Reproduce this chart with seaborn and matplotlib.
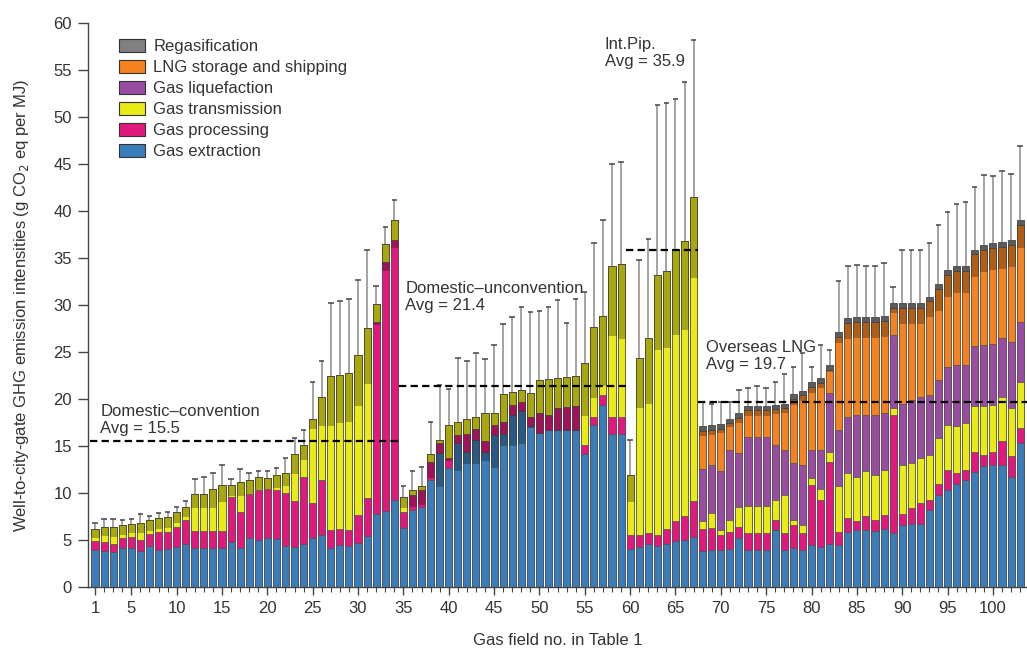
import matplotlib
matplotlib.use('Agg')
import matplotlib.pyplot as plt
import matplotlib.patches as mpatches
import numpy as np
import pandas as pd
import seaborn as sns

# gas field numbers
fields = list(range(1, 104))

# emission intensity per stage (g CO2 eq per MJ), fields 1..103
extraction = [3.9, 3.8, 3.7, 4.1, 4.2, 3.8, 4.4, 3.9, 4.0, 4.3, 4.6, 4.1, 4.2, 4.2, 4.2, 4.8, 4.1, 5.2, 5.0, 5.2,
              5.1, 4.4, 4.3, 4.6, 5.2, 5.5, 4.2, 4.5, 4.4, 4.7, 5.4, 7.8, 8.1, 9.3,
              6.3, 8.2, 8.5, 11.4, 14.3, 12.7, 15.3, 14.4, 15.6, 14.4, 16.2, 16.3, 18.3, 18.7, 17.1, 16.4,
              16.7, 16.7, 16.7, 16.7, 14.1, 17.2, 19.4, 16.3, 16.3,
              4.0, 4.3, 4.6, 4.4, 4.6, 4.9, 5.0, 5.3,
              3.8, 3.9, 3.9, 4.0, 5.2, 3.9, 3.9, 3.9, 6.1, 3.9, 4.1, 3.9, 4.5, 4.3, 4.6, 4.5, 5.9, 6.1,
              6.1, 6.0, 6.2, 5.7, 6.6, 6.7, 6.7, 8.2, 9.8, 10.3, 11.0, 11.4, 12.2, 12.9, 13.0, 13.0, 11.7, 15.3]
processing = [1.0, 1.0, 0.9, 1.1, 1.1, 1.2, 1.2, 1.9, 1.9, 2.1, 2.5, 1.9, 1.8, 1.8, 1.8, 4.8, 3.9, 4.7, 5.3, 5.2,
              5.2, 5.6, 4.9, 7.1, 3.7, 5.9, 1.9, 1.7, 1.7, 3.0, 4.1, 20.4, 26.5, 27.6,
              1.7, 1.6, 1.8, 1.9, 1.0, 1.0, 0.9, 1.9, 1.2, 1.1, 1.0, 1.2, 1.1, 1.0, 1.0, 2.1,
              1.6, 2.3, 2.5, 2.6, 1.0, 0.9, 1.0, 1.8, 1.8,
              1.5, 1.2, 1.1, 1.1, 1.6, 2.1, 2.6, 3.8,
              2.4, 2.4, 1.6, 1.9, 1.2, 1.8, 1.8, 1.8, 1.0, 1.8, 2.5, 1.8, 6.4, 5.0, 8.7, 1.4, 1.4, 0.9,
              1.4, 1.1, 1.5, 12.6, 1.2, 1.7, 2.2, 1.1, 1.2, 2.1, 1.1, 1.0, 2.2, 1.1, 1.4, 2.5, 2.2, 1.6]
transmission = [1.3, 1.6, 1.8, 1.4, 1.4, 1.8, 1.5, 1.5, 1.5, 1.6, 1.4, 3.9, 3.9, 4.4, 4.8, 1.3, 3.2, 1.5, 1.4, 1.2,
                1.6, 2.1, 5.0, 3.4, 9.0, 8.8, 16.3, 16.4, 16.7, 17.0, 18.1, 1.9, 1.9, 2.1,
                1.6, 0.5, 0.4, 0.8, 0.3, 3.5, 1.3, 1.6, 1.3, 3.0, 1.3, 3.0, 1.3, 1.3, 2.5, 3.5,
                3.8, 3.2, 3.1, 3.1, 8.7, 9.6, 8.4, 16.0, 16.3,
                6.4, 18.9, 20.8, 27.7, 27.4, 29.0, 29.2, 32.4,
                0.8, 1.6, 0.6, 1.2, 2.1, 2.9, 2.9, 2.9, 2.2, 4.1, 0.5, 0.9, 0.7, 1.1, 1.1, 4.8, 4.8, 4.7,
                4.8, 4.8, 4.7, 0.7, 5.2, 4.8, 4.8, 4.7, 4.8, 4.8, 5.0, 5.0, 4.9, 5.3, 5.0, 4.7, 5.1, 4.9]
liquefaction = [0.0] * 67 + [
                5.6, 5.1, 6.2, 7.5, 5.8, 7.4, 7.4, 7.4, 5.8, 4.8, 6.1, 6.4, 3.0, 4.2, 6.2, 6.0, 6.0, 6.6,
                6.0, 6.4, 6.1, 7.8, 6.5, 6.7, 6.5, 6.4, 6.2, 6.2, 6.5, 6.2, 6.3, 6.4, 6.5, 6.3, 7.1, 6.4]
lng_shipping = [0.0] * 67 + [
                4.0, 3.7, 4.5, 2.8, 3.7, 2.8, 2.8, 2.8, 3.8, 4.4, 6.8, 7.4, 6.7, 7.1, 2.5, 9.9, 10.0, 9.9,
                9.9, 9.9, 9.8, 2.9, 10.2, 9.8, 9.5, 10.0, 9.7, 9.8, 10.0, 10.0, 9.8, 10.2, 10.2, 9.7, 10.3, 10.3]
regasification = [0.0] * 67 + [0.5] * 36

# uncertainty range: darker band starts at `range_low`, whisker ends at `range_high`
range_low = [5.3, 5.5, 5.4, 5.6, 5.9, 5.9, 6.1, 6.3, 6.4, 6.9, 7.5, 8.5, 8.5, 8.5, 9.1, 9.8, 9.8, 10.0, 10.4, 10.5,
             10.6, 10.8, 12.1, 13.6, 16.9, 17.2, 17.2, 17.5, 17.7, 19.4, 21.7, 28.0, 33.7, 36.2,
             8.5, 8.6, 8.8, 11.7, 10.7, 13.5, 12.4, 13.2, 13.2, 13.5, 12.8, 15.1, 15.1, 15.3, 17.0, 16.4,
             16.7, 16.7, 16.7, 16.7, 18.3, 20.2, 21.5, 26.8, 26.5,
             9.2, 19.1, 19.6, 25.3, 25.5, 26.9, 27.4, 33.0,
             16.2, 16.3, 16.5, 17.1, 17.6, 18.3, 18.3, 18.3, 18.5, 18.6, 19.5, 19.9, 20.7, 21.3, 23.0, 26.1, 26.5, 26.6,
             26.6, 26.6, 26.7, 29.3, 28.1, 28.1, 28.1, 28.8, 29.5, 31.0, 31.4, 31.4, 33.1, 33.6, 33.8, 33.9, 34.1, 36.2]
range_high = [6.8, 7.2, 7.2, 7.1, 7.2, 7.8, 7.6, 7.9, 8.0, 8.5, 9.2, 11.5, 11.7, 12.1, 13.0, 11.5, 12.6, 12.1, 12.3, 12.3,
              12.7, 13.7, 15.9, 16.7, 21.8, 24.0, 30.2, 30.4, 30.6, 32.7, 35.9, 32.0, 38.3, 41.2,
              10.7, 12.3, 12.8, 17.5, 21.5, 21.1, 24.4, 24.0, 24.9, 24.3, 25.7, 28.0, 28.7, 29.8, 29.3, 29.4,
              29.8, 30.5, 28.1, 30.6, 31.4, 36.6, 39.0, 45.0, 45.2,
              15.6, 34.8, 37.0, 51.3, 51.5, 51.9, 53.7, 58.2,
              19.7, 19.5, 19.7, 19.7, 21.0, 21.2, 21.4, 21.2, 21.8, 22.7, 23.4, 24.9, 23.4, 25.7, 25.2, 32.5, 34.1, 34.3,
              34.1, 34.1, 34.5, 31.9, 35.9, 35.8, 35.9, 36.6, 38.5, 39.9, 40.7, 41.0, 42.6, 43.8, 43.7, 44.3, 43.9, 46.9]

# group averages: (label, average, first field, last field)
groups = [('Domestic\u2013convention', 15.5, 1, 34),
          ('Domestic\u2013unconvention', 21.4, 35, 59),
          ('Int.Pip.', 35.9, 60, 67),
          ('Overseas LNG', 19.7, 68, 103)]

stages = ['Gas extraction', 'Gas processing', 'Gas transmission',
          'Gas liquefaction', 'LNG storage and shipping', 'Regasification']
colors = ['#3a7dbb', '#e2187f', '#eaea14', '#9a4ca2', '#f5821f', '#808080']

df = pd.DataFrame({'field': fields, 'Gas extraction': extraction, 'Gas processing': processing,
                   'Gas transmission': transmission, 'Gas liquefaction': liquefaction,
                   'LNG storage and shipping': lng_shipping, 'Regasification': regasification})
cum = df[stages].cumsum(axis=1)
df['total'] = cum[stages[-1]]

sns.set_style('ticks')
plt.rcParams['font.family'] = ['Liberation Sans', 'DejaVu Sans']
text_color = '#333333'

fig = plt.figure(figsize=(10.27, 6.53), dpi=100)
ax = fig.add_axes([0.0857, 0.1011, 0.9143, 0.8637])

# stacked bars: draw from the top layer down
for stage, color in reversed(list(zip(stages, colors))):
    sns.barplot(x=df['field'], y=cum[stage], native_scale=True, width=0.78, color=color,
                saturation=1, edgecolor='#505050', linewidth=0.5, errorbar=None, ax=ax)

# darker uncertainty band and whiskers
low = np.array(range_low)
ax.bar(df['field'], df['total'] - low, bottom=low, width=0.78, color='black', alpha=0.28,
       edgecolor='#222222', linewidth=0.5, zorder=3)
ax.vlines(df['field'], df['total'], range_high, color='#8a8a8a', linewidth=1.1, zorder=4)
ax.hlines(range_high, df['field'] - 0.3, df['field'] + 0.3, color='#444444', linewidth=1.1, zorder=4)

# group averages
for name, avg, first, last in groups:
    x0 = first - 0.5
    x1 = last + 0.5 if last < 103 else 104
    ax.plot([x0, x1], [avg, avg], color='black', linewidth=1.6,
            linestyle=(0, (3.3, 1.9)), zorder=5)

ax.text(1.6, 16.1, 'Domestic\u2013convention\nAvg = 15.5', fontsize=12, color=text_color,
        ha='left', va='bottom', linespacing=1.15)
ax.text(35.2, 29.2, 'Domestic\u2013unconvention\nAvg = 21.4', fontsize=12, color=text_color,
        ha='left', va='bottom', linespacing=1.15)
ax.text(57.2, 55.1, 'Int.Pip.\nAvg = 35.9', fontsize=12, color=text_color,
        ha='left', va='bottom', linespacing=1.15)
ax.text(68.4, 22.9, 'Overseas LNG\nAvg = 19.7', fontsize=12, color=text_color,
        ha='left', va='bottom', linespacing=1.15)

ax.set_xlim(0.228, 103.76)
ax.set_ylim(0, 60)
ax.set_xticks([1] + list(range(5, 101, 5)))
ax.set_xticks(fields, minor=True)
ax.set_yticks(range(0, 61, 5))
ax.tick_params(axis='x', which='major', length=6, width=1, color='#444444',
               labelsize=12, labelcolor=text_color, pad=4)
ax.tick_params(axis='x', which='minor', length=3.5, width=0.8, color='#444444')
ax.tick_params(axis='y', length=7.5, width=1, color='#444444', labelsize=12,
               labelcolor=text_color, pad=4)
ax.set_xlabel('Gas field no. in Table 1', fontsize=12, color=text_color, labelpad=12)
ax.set_ylabel('Well-to-city-gate GHG emission intensities (g CO$_2$ eq per MJ)',
              fontsize=12, color=text_color, labelpad=16)
sns.despine(ax=ax)
for side in ['left', 'bottom']:
    ax.spines[side].set_color('#444444')
    ax.spines[side].set_linewidth(1)

handles = [mpatches.Patch(facecolor=c, edgecolor='#333333', linewidth=0.8, label=s)
           for s, c in zip(stages, colors)][::-1]
ax.legend(handles=handles, loc='upper left', bbox_to_anchor=(0.033, 0.972), frameon=False,
          fontsize=12, handlelength=1.55, handleheight=0.8, handletextpad=0.5,
          labelspacing=0.35, borderpad=0, borderaxespad=0, labelcolor=text_color)

fig.savefig('out.png', dpi=100)
